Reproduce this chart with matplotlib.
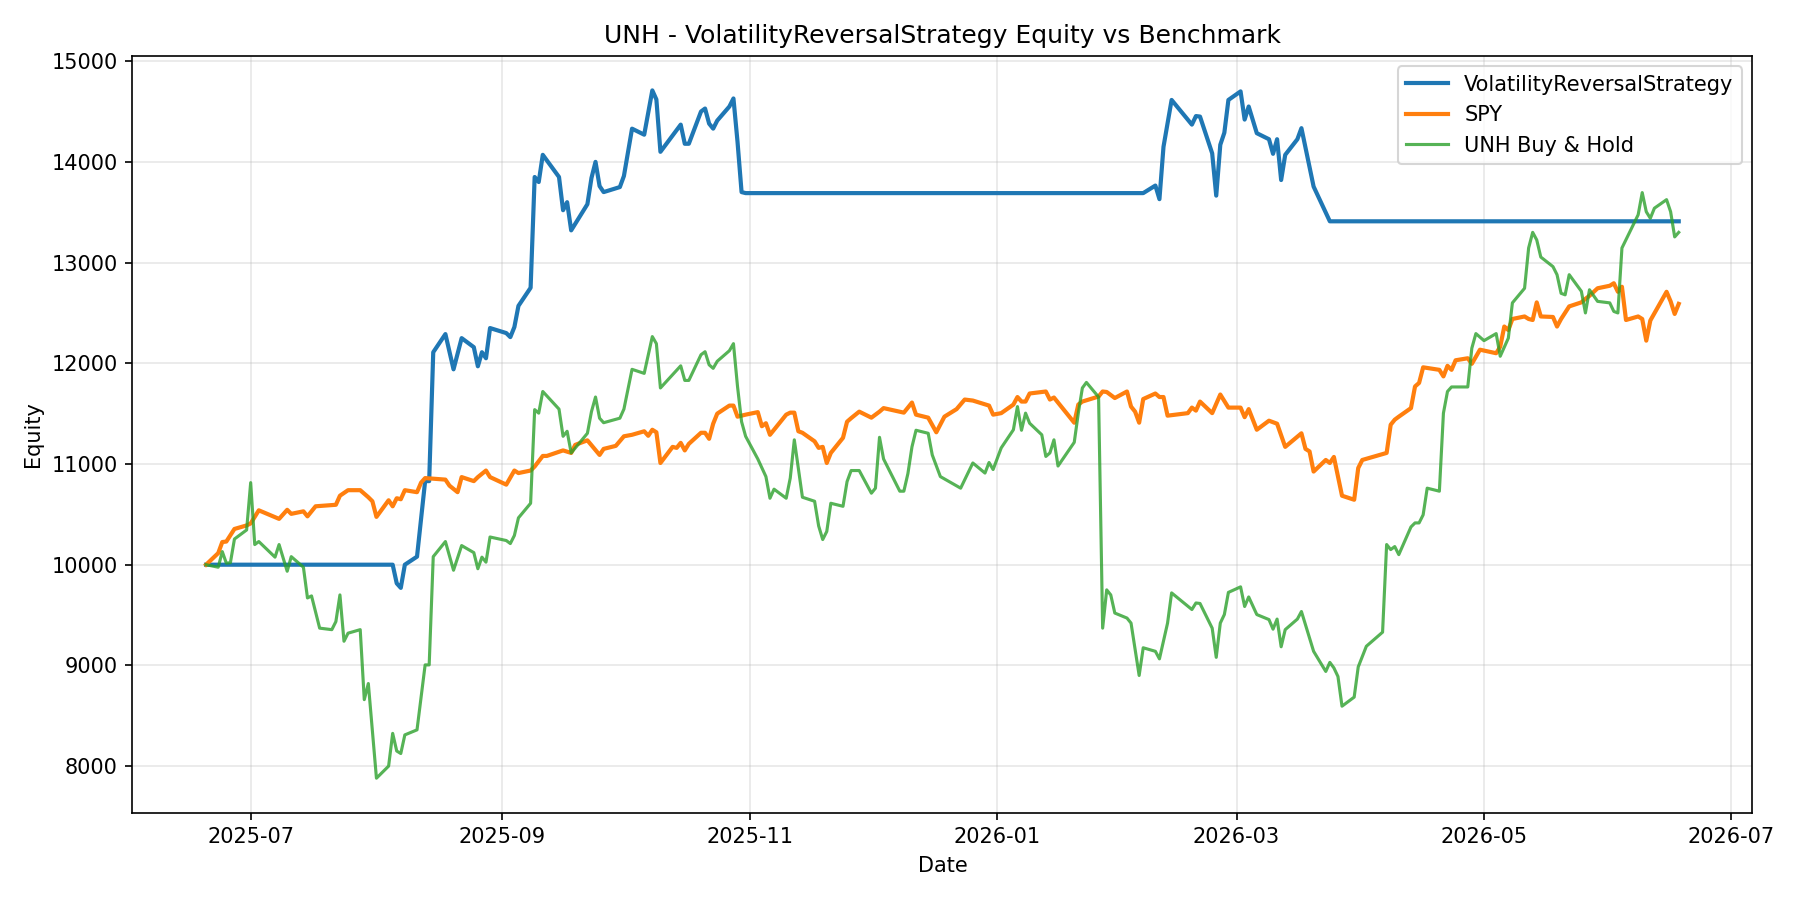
import pandas as pd
import matplotlib
matplotlib.use('Agg')
import matplotlib.pyplot as plt

# Equity curves (start capital 10000)
strategy_dates = [
    '2025-06-20', '2025-08-05', '2025-08-06', '2025-08-07', '2025-08-08', '2025-08-11', '2025-08-13',
    '2025-08-14', '2025-08-15', '2025-08-18', '2025-08-20', '2025-08-22', '2025-08-25', '2025-08-26',
    '2025-08-27', '2025-08-28', '2025-08-29', '2025-09-02', '2025-09-03', '2025-09-04', '2025-09-05',
    '2025-09-08', '2025-09-09', '2025-09-10', '2025-09-11', '2025-09-15', '2025-09-16', '2025-09-17',
    '2025-09-18', '2025-09-22', '2025-09-23', '2025-09-24', '2025-09-25', '2025-09-26', '2025-09-30',
    '2025-10-01', '2025-10-03', '2025-10-06', '2025-10-08', '2025-10-09', '2025-10-10', '2025-10-15',
    '2025-10-16', '2025-10-17', '2025-10-20', '2025-10-21', '2025-10-22', '2025-10-23', '2025-10-24',
    '2025-10-27', '2025-10-28', '2025-10-29', '2025-10-30', '2025-10-31', '2026-02-06', '2026-02-09',
    '2026-02-10', '2026-02-11', '2026-02-13', '2026-02-18', '2026-02-19', '2026-02-20', '2026-02-23',
    '2026-02-24', '2026-02-25', '2026-02-26', '2026-02-27', '2026-03-02', '2026-03-03', '2026-03-04',
    '2026-03-06', '2026-03-09', '2026-03-10', '2026-03-11', '2026-03-12', '2026-03-13', '2026-03-16',
    '2026-03-17', '2026-03-20', '2026-03-24', '2026-06-18']
strategy_equity = [
    10000, 10000, 9815, 9770, 10000, 10080, 10830,
    10830, 12110, 12290, 11940, 12250, 12160, 11970,
    12110, 12050, 12350, 12300, 12260, 12360, 12570,
    12750, 13850, 13800, 14070, 13850, 13520, 13600,
    13320, 13580, 13840, 14000, 13760, 13700, 13750,
    13860, 14330, 14270, 14710, 14620, 14100, 14370,
    14180, 14180, 14500, 14530, 14380, 14330, 14410,
    14550, 14630, 14200, 13700, 13690, 13690, 13765,
    13630, 14150, 14615, 14370, 14455, 14450, 14085,
    13665, 14170, 14290, 14615, 14700, 14420, 14550,
    14285, 14225, 14080, 14225, 13820, 14070, 14225,
    14335, 13755, 13410, 13410]

spy_dates = [
    '2025-06-20', '2025-06-23', '2025-06-24', '2025-06-25', '2025-06-27', '2025-06-30', '2025-07-01',
    '2025-07-03', '2025-07-08', '2025-07-10', '2025-07-11', '2025-07-14', '2025-07-15', '2025-07-17',
    '2025-07-22', '2025-07-23', '2025-07-25', '2025-07-28', '2025-07-30', '2025-07-31', '2025-08-01',
    '2025-08-04', '2025-08-05', '2025-08-06', '2025-08-07', '2025-08-08', '2025-08-11', '2025-08-12',
    '2025-08-13', '2025-08-18', '2025-08-19', '2025-08-21', '2025-08-22', '2025-08-25', '2025-08-26',
    '2025-08-28', '2025-08-29', '2025-09-02', '2025-09-04', '2025-09-05', '2025-09-08', '2025-09-09',
    '2025-09-11', '2025-09-12', '2025-09-16', '2025-09-18', '2025-09-19', '2025-09-22', '2025-09-25',
    '2025-09-26', '2025-09-29', '2025-10-01', '2025-10-03', '2025-10-06', '2025-10-07', '2025-10-08',
    '2025-10-09', '2025-10-10', '2025-10-13', '2025-10-14', '2025-10-15', '2025-10-16', '2025-10-17',
    '2025-10-20', '2025-10-21', '2025-10-22', '2025-10-23', '2025-10-24', '2025-10-27', '2025-10-28',
    '2025-10-29', '2025-10-30', '2025-10-31', '2025-11-03', '2025-11-04', '2025-11-05', '2025-11-06',
    '2025-11-10', '2025-11-11', '2025-11-12', '2025-11-13', '2025-11-14', '2025-11-17', '2025-11-18',
    '2025-11-19', '2025-11-20', '2025-11-21', '2025-11-24', '2025-11-25', '2025-11-26', '2025-11-28',
    '2025-12-01', '2025-12-03', '2025-12-04', '2025-12-09', '2025-12-11', '2025-12-12', '2025-12-15',
    '2025-12-17', '2025-12-19', '2025-12-22', '2025-12-24', '2025-12-26', '2025-12-30', '2025-12-31',
    '2026-01-02', '2026-01-05', '2026-01-06', '2026-01-07', '2026-01-08', '2026-01-09', '2026-01-13',
    '2026-01-14', '2026-01-15', '2026-01-20', '2026-01-21', '2026-01-22', '2026-01-26', '2026-01-27',
    '2026-01-28', '2026-01-30', '2026-02-02', '2026-02-03', '2026-02-04', '2026-02-05', '2026-02-06',
    '2026-02-09', '2026-02-10', '2026-02-11', '2026-02-12', '2026-02-17', '2026-02-18', '2026-02-19',
    '2026-02-20', '2026-02-23', '2026-02-25', '2026-02-27', '2026-03-02', '2026-03-03', '2026-03-04',
    '2026-03-06', '2026-03-09', '2026-03-11', '2026-03-13', '2026-03-17', '2026-03-18', '2026-03-19',
    '2026-03-20', '2026-03-23', '2026-03-24', '2026-03-25', '2026-03-27', '2026-03-30', '2026-03-31',
    '2026-04-01', '2026-04-07', '2026-04-08', '2026-04-09', '2026-04-10', '2026-04-13', '2026-04-14',
    '2026-04-15', '2026-04-16', '2026-04-20', '2026-04-21', '2026-04-22', '2026-04-23', '2026-04-24',
    '2026-04-27', '2026-04-28', '2026-04-30', '2026-05-04', '2026-05-05', '2026-05-06', '2026-05-07',
    '2026-05-08', '2026-05-11', '2026-05-12', '2026-05-13', '2026-05-14', '2026-05-15', '2026-05-18',
    '2026-05-19', '2026-05-20', '2026-05-22', '2026-05-25', '2026-05-26', '2026-05-27', '2026-05-29',
    '2026-06-01', '2026-06-02', '2026-06-03', '2026-06-04', '2026-06-05', '2026-06-08', '2026-06-09',
    '2026-06-10', '2026-06-11', '2026-06-15', '2026-06-16', '2026-06-17', '2026-06-18']
spy_equity = [
    10000, 10115, 10225, 10230, 10355, 10390, 10410,
    10540, 10455, 10545, 10505, 10530, 10480, 10580,
    10595, 10685, 10740, 10740, 10670, 10630, 10475,
    10640, 10580, 10660, 10650, 10740, 10720, 10815,
    10860, 10845, 10785, 10720, 10870, 10830, 10870,
    10935, 10870, 10795, 10935, 10910, 10935, 10975,
    11080, 11080, 11135, 11110, 11190, 11235, 11090,
    11150, 11180, 11275, 11290, 11325, 11280, 11340,
    11315, 11010, 11170, 11160, 11210, 11135, 11200,
    11310, 11310, 11250, 11400, 11500, 11580, 11580,
    11470, 11480, 11490, 11515, 11375, 11405, 11290,
    11490, 11510, 11510, 11325, 11310, 11225, 11160,
    11170, 11010, 11110, 11260, 11420, 11455, 11520,
    11460, 11520, 11555, 11510, 11610, 11490, 11460,
    11315, 11470, 11545, 11640, 11630, 11580, 11490,
    11505, 11590, 11665, 11620, 11620, 11700, 11720,
    11640, 11660, 11410, 11590, 11620, 11670, 11720,
    11715, 11655, 11720, 11570, 11520, 11410, 11645,
    11700, 11665, 11665, 11480, 11505, 11560, 11530,
    11620, 11505, 11690, 11560, 11560, 11465, 11545,
    11340, 11430, 11400, 11170, 11305, 11150, 11125,
    10925, 11040, 11010, 11070, 10685, 10645, 10960,
    11040, 11110, 11390, 11440, 11470, 11555, 11770,
    11805, 11960, 11935, 11870, 11975, 11935, 12030,
    12050, 11995, 12135, 12100, 12165, 12365, 12330,
    12440, 12465, 12440, 12430, 12605, 12465, 12460,
    12365, 12440, 12565, 12605, 12640, 12670, 12745,
    12770, 12795, 12710, 12760, 12430, 12465, 12440,
    12225, 12425, 12710, 12615, 12490, 12590]

unh_dates = [
    '2025-06-20', '2025-06-23', '2025-06-24', '2025-06-25', '2025-06-26', '2025-06-27', '2025-06-30',
    '2025-07-01', '2025-07-02', '2025-07-03', '2025-07-07', '2025-07-08', '2025-07-10', '2025-07-11',
    '2025-07-14', '2025-07-15', '2025-07-16', '2025-07-18', '2025-07-21', '2025-07-22', '2025-07-23',
    '2025-07-24', '2025-07-25', '2025-07-28', '2025-07-29', '2025-07-30', '2025-07-31', '2025-08-01',
    '2025-08-04', '2025-08-05', '2025-08-06', '2025-08-07', '2025-08-08', '2025-08-11', '2025-08-13',
    '2025-08-14', '2025-08-15', '2025-08-18', '2025-08-20', '2025-08-22', '2025-08-25', '2025-08-26',
    '2025-08-27', '2025-08-28', '2025-08-29', '2025-09-02', '2025-09-03', '2025-09-04', '2025-09-05',
    '2025-09-08', '2025-09-09', '2025-09-10', '2025-09-11', '2025-09-15', '2025-09-16', '2025-09-17',
    '2025-09-18', '2025-09-22', '2025-09-23', '2025-09-24', '2025-09-25', '2025-09-26', '2025-09-30',
    '2025-10-01', '2025-10-03', '2025-10-06', '2025-10-08', '2025-10-09', '2025-10-10', '2025-10-15',
    '2025-10-16', '2025-10-17', '2025-10-20', '2025-10-21', '2025-10-22', '2025-10-23', '2025-10-24',
    '2025-10-27', '2025-10-28', '2025-10-29', '2025-10-30', '2025-10-31', '2025-11-03', '2025-11-05',
    '2025-11-06', '2025-11-07', '2025-11-10', '2025-11-11', '2025-11-12', '2025-11-14', '2025-11-17',
    '2025-11-18', '2025-11-19', '2025-11-20', '2025-11-21', '2025-11-24', '2025-11-25', '2025-11-26',
    '2025-11-28', '2025-12-01', '2025-12-02', '2025-12-03', '2025-12-04', '2025-12-08', '2025-12-09',
    '2025-12-10', '2025-12-11', '2025-12-12', '2025-12-15', '2025-12-16', '2025-12-18', '2025-12-23',
    '2025-12-26', '2025-12-29', '2025-12-30', '2025-12-31', '2026-01-02', '2026-01-05', '2026-01-06',
    '2026-01-07', '2026-01-08', '2026-01-09', '2026-01-12', '2026-01-13', '2026-01-14', '2026-01-15',
    '2026-01-16', '2026-01-20', '2026-01-21', '2026-01-22', '2026-01-23', '2026-01-26', '2026-01-27',
    '2026-01-28', '2026-01-29', '2026-01-30', '2026-02-02', '2026-02-03', '2026-02-05', '2026-02-06',
    '2026-02-09', '2026-02-10', '2026-02-12', '2026-02-13', '2026-02-18', '2026-02-19', '2026-02-20',
    '2026-02-23', '2026-02-24', '2026-02-25', '2026-02-26', '2026-02-27', '2026-03-02', '2026-03-03',
    '2026-03-04', '2026-03-06', '2026-03-09', '2026-03-10', '2026-03-11', '2026-03-12', '2026-03-13',
    '2026-03-16', '2026-03-17', '2026-03-20', '2026-03-23', '2026-03-24', '2026-03-25', '2026-03-26',
    '2026-03-27', '2026-03-30', '2026-03-31', '2026-04-02', '2026-04-06', '2026-04-07', '2026-04-08',
    '2026-04-09', '2026-04-10', '2026-04-13', '2026-04-14', '2026-04-15', '2026-04-16', '2026-04-17',
    '2026-04-20', '2026-04-21', '2026-04-22', '2026-04-23', '2026-04-27', '2026-04-28', '2026-04-29',
    '2026-05-01', '2026-05-04', '2026-05-05', '2026-05-07', '2026-05-08', '2026-05-11', '2026-05-12',
    '2026-05-13', '2026-05-14', '2026-05-15', '2026-05-18', '2026-05-19', '2026-05-20', '2026-05-21',
    '2026-05-22', '2026-05-25', '2026-05-26', '2026-05-27', '2026-05-29', '2026-06-01', '2026-06-02',
    '2026-06-03', '2026-06-04', '2026-06-08', '2026-06-09', '2026-06-10', '2026-06-11', '2026-06-12',
    '2026-06-15', '2026-06-16', '2026-06-17', '2026-06-18']
unh_equity = [
    10000, 9975, 10130, 10015, 10020, 10255, 10345,
    10815, 10200, 10230, 10075, 10200, 9935, 10080,
    9975, 9670, 9690, 9370, 9355, 9435, 9700,
    9240, 9320, 9355, 8660, 8820, 8345, 7880,
    8000, 8325, 8150, 8125, 8310, 8360, 9005,
    9005, 10080, 10230, 9945, 10190, 10120, 9960,
    10075, 10025, 10275, 10240, 10210, 10290, 10465,
    10610, 11540, 11505, 11720, 11545, 11275, 11325,
    11110, 11305, 11520, 11665, 11455, 11410, 11455,
    11545, 11940, 11900, 12265, 12195, 11755, 11975,
    11830, 11830, 12085, 12115, 11985, 11950, 12020,
    12125, 12195, 11770, 11420, 11275, 11050, 10875,
    10660, 10750, 10660, 10860, 11240, 10670, 10630,
    10385, 10250, 10330, 10610, 10580, 10825, 10935,
    10935, 10710, 10760, 11265, 11050, 10730, 10730,
    10905, 11170, 11335, 11305, 11090, 10875, 10760,
    11010, 10910, 11015, 10945, 11160, 11340, 11570,
    11335, 11505, 11405, 11290, 11075, 11110, 11240,
    10980, 11215, 11505, 11755, 11810, 11665, 9370,
    9750, 9700, 9520, 9470, 9420, 8900, 9175,
    9140, 9065, 9420, 9720, 9555, 9620, 9615,
    9370, 9080, 9420, 9505, 9725, 9780, 9585,
    9680, 9505, 9455, 9360, 9460, 9185, 9355,
    9460, 9535, 9140, 8940, 9030, 8975, 8890,
    8595, 8685, 8985, 9190, 9330, 10200, 10150,
    10180, 10100, 10375, 10415, 10415, 10495, 10760,
    10730, 11505, 11720, 11765, 11765, 12150, 12295,
    12225, 12295, 12070, 12250, 12600, 12745, 13145,
    13300, 13225, 13055, 12960, 12880, 12695, 12680,
    12880, 12715, 12500, 12730, 12615, 12600, 12515,
    12500, 13145, 13475, 13695, 13505, 13440, 13540,
    13625, 13505, 13255, 13300]

strategy_name = 'VolatilityReversalStrategy'
ticker = 'UNH'

plt.figure(figsize=(12, 6))
plt.plot(pd.to_datetime(strategy_dates), strategy_equity, label=strategy_name, linewidth=2)
plt.plot(pd.to_datetime(spy_dates), spy_equity, label='SPY', linewidth=2)
plt.plot(pd.to_datetime(unh_dates), unh_equity, label=f'{ticker} Buy & Hold', linewidth=1.5, alpha=0.8)
plt.title(f'{ticker} - {strategy_name} Equity vs Benchmark')
plt.xlabel('Date')
plt.ylabel('Equity')
plt.legend(loc='upper right')
plt.grid(True, alpha=0.3)
plt.tight_layout()
plt.savefig('out.png', dpi=150)
